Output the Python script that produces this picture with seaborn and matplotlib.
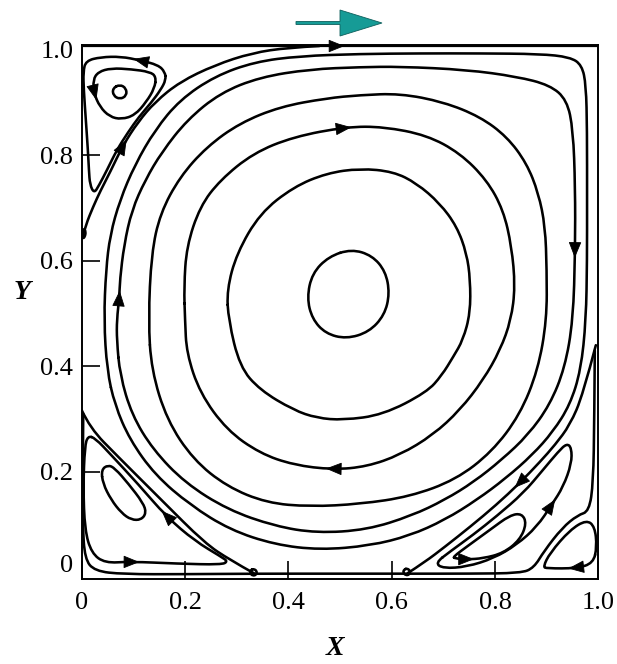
import numpy as np
import matplotlib
matplotlib.use("Agg")
import matplotlib.pyplot as plt
from matplotlib.path import Path
from matplotlib.patches import PathPatch, Polygon
import seaborn as sns

# ---- streamlines (x, y in cavity units) ----
C1 = [(0.522, 0.622), (0.562, 0.610), (0.588, 0.580), (0.596, 0.538), (0.586, 0.497),
      (0.556, 0.465), (0.512, 0.452), (0.472, 0.462), (0.446, 0.490), (0.436, 0.530),
      (0.446, 0.576), (0.478, 0.608)]
C2 = [(0.281, 0.545), (0.300, 0.614), (0.345, 0.690), (0.410, 0.740), (0.474, 0.766),
      (0.539, 0.775), (0.603, 0.769), (0.648, 0.747), (0.693, 0.709), (0.726, 0.665),
      (0.745, 0.614), (0.752, 0.564), (0.752, 0.501), (0.738, 0.450), (0.719, 0.418),
      (0.697, 0.383), (0.668, 0.351), (0.583, 0.308), (0.506, 0.298), (0.455, 0.302),
      (0.410, 0.317), (0.345, 0.355), (0.306, 0.399), (0.284, 0.488)]
C3 = [(0.198, 0.550), (0.203, 0.627), (0.229, 0.703), (0.268, 0.753), (0.332, 0.804),
      (0.410, 0.835), (0.513, 0.854), (0.584, 0.854), (0.668, 0.838), (0.732, 0.804),
      (0.784, 0.753), (0.816, 0.696), (0.832, 0.627), (0.839, 0.551), (0.831, 0.488),
      (0.810, 0.431), (0.777, 0.374), (0.732, 0.317), (0.680, 0.270), (0.616, 0.232),
      (0.552, 0.210), (0.487, 0.204), (0.410, 0.213), (0.345, 0.235), (0.281, 0.279),
      (0.229, 0.349), (0.203, 0.425), (0.200, 0.488)]
C4 = [(0.129, 0.488), (0.135, 0.614), (0.152, 0.690), (0.190, 0.759), (0.242, 0.816),
      (0.306, 0.861), (0.384, 0.892), (0.474, 0.908), (0.539, 0.914), (0.616, 0.917),
      (0.700, 0.901), (0.771, 0.873), (0.823, 0.835), (0.861, 0.785), (0.884, 0.728),
      (0.897, 0.665), (0.900, 0.583), (0.900, 0.488), (0.883, 0.393), (0.848, 0.308),
      (0.794, 0.238), (0.724, 0.185), (0.635, 0.153), (0.539, 0.139), (0.442, 0.134),
      (0.358, 0.141), (0.281, 0.172), (0.216, 0.223), (0.165, 0.298), (0.135, 0.393)]
C5 = [(0.068, 0.450), (0.068, 0.488), (0.073, 0.532), (0.074, 0.564), (0.082, 0.630),
      (0.097, 0.696), (0.123, 0.753), (0.155, 0.806), (0.204, 0.867), (0.268, 0.918),
      (0.345, 0.948), (0.442, 0.963), (0.539, 0.967), (0.616, 0.968), (0.745, 0.962),
      (0.842, 0.949), (0.906, 0.933), (0.939, 0.905), (0.951, 0.848), (0.955, 0.740),
      (0.955, 0.620), (0.951, 0.488), (0.935, 0.397), (0.906, 0.327), (0.864, 0.270),
      (0.813, 0.223), (0.759, 0.181), (0.703, 0.147), (0.639, 0.117), (0.552, 0.090),
      (0.455, 0.084), (0.374, 0.097), (0.283, 0.128), (0.200, 0.179), (0.138, 0.242),
      (0.097, 0.308), (0.074, 0.384)]
C6 = [(0.049, 0.393), (0.043, 0.488), (0.047, 0.583), (0.055, 0.649), (0.074, 0.715),
      (0.103, 0.782), (0.142, 0.848), (0.190, 0.905), (0.258, 0.950), (0.335, 0.977),
      (0.422, 0.988), (0.539, 0.992), (0.655, 0.993), (0.771, 0.993), (0.887, 0.992),
      (0.945, 0.986), (0.968, 0.971), (0.976, 0.933), (0.978, 0.848), (0.978, 0.715),
      (0.978, 0.602), (0.976, 0.488), (0.966, 0.393), (0.945, 0.327), (0.912, 0.276),
      (0.872, 0.232), (0.821, 0.188), (0.765, 0.147), (0.703, 0.109), (0.635, 0.079),
      (0.558, 0.060), (0.461, 0.052), (0.374, 0.062), (0.287, 0.090), (0.210, 0.137),
      (0.142, 0.194), (0.093, 0.261), (0.064, 0.327)]
LID = [(0.0, 1.007), (0.494, 1.007), (1.0, 1.007)]
SEP_TL = [(0.001, 0.643), (0.008, 0.668), (0.022, 0.702), (0.037, 0.734), (0.055, 0.768),
          (0.080, 0.819), (0.109, 0.863), (0.142, 0.901), (0.190, 0.939), (0.258, 0.971),
          (0.330, 0.994), (0.400, 1.004), (0.460, 1.007)]
TL_OUTER = [(0.161, 0.958), (0.148, 0.971), (0.113, 0.980), (0.076, 0.987), (0.037, 0.986),
            (0.008, 0.979), (0.003, 0.958), (0.004, 0.924), (0.008, 0.867), (0.012, 0.810),
            (0.014, 0.772), (0.016, 0.744), (0.024, 0.728), (0.033, 0.742), (0.049, 0.772),
            (0.068, 0.810), (0.090, 0.844), (0.111, 0.873), (0.134, 0.899), (0.153, 0.924),
            (0.163, 0.943)]
TL_INNER = [(0.144, 0.949), (0.132, 0.958), (0.096, 0.963), (0.057, 0.965), (0.032, 0.958),
            (0.022, 0.943), (0.024, 0.917), (0.035, 0.892), (0.054, 0.873), (0.077, 0.868),
            (0.103, 0.876), (0.125, 0.901), (0.141, 0.927)]
TL_EYE = [(0.074, 0.934), (0.086, 0.927), (0.087, 0.913), (0.074, 0.906), (0.061, 0.913),
          (0.060, 0.927)]
SEP_BL = [(0.333, 0.008), (0.287, 0.033), (0.238, 0.065), (0.154, 0.147), (0.070, 0.229),
          (0.016, 0.283), (0.0, 0.317)]
BL_OUTER = [(0.012, 0.268), (0.006, 0.248), (0.003, 0.172), (0.006, 0.090), (0.019, 0.046),
            (0.045, 0.027), (0.093, 0.030), (0.186, 0.026), (0.270, 0.024), (0.283, 0.030),
            (0.270, 0.039), (0.219, 0.069), (0.164, 0.115), (0.109, 0.177), (0.057, 0.232),
            (0.026, 0.264)]
BL_INNER = [(0.038, 0.204), (0.051, 0.213), (0.064, 0.207), (0.090, 0.178), (0.119, 0.141),
            (0.125, 0.122), (0.115, 0.109), (0.096, 0.109), (0.077, 0.122), (0.057, 0.147),
            (0.041, 0.178)]
SEP_BR = [(0.995, 0.440), (0.970, 0.346), (0.945, 0.289), (0.916, 0.251), (0.887, 0.219),
          (0.848, 0.179), (0.802, 0.137), (0.752, 0.096), (0.703, 0.058), (0.664, 0.029),
          (0.631, 0.008)]
BR_L1 = [(0.684, 0.027), (0.700, 0.017), (0.745, 0.020), (0.797, 0.036), (0.842, 0.062),
         (0.881, 0.096), (0.910, 0.138), (0.932, 0.172), (0.948, 0.216), (0.948, 0.245),
         (0.939, 0.254), (0.922, 0.238), (0.893, 0.204), (0.855, 0.160), (0.803, 0.116),
         (0.758, 0.081), (0.713, 0.049)]
BR_L2 = [(0.722, 0.036), (0.745, 0.034), (0.777, 0.036), (0.816, 0.046), (0.848, 0.071),
         (0.861, 0.102), (0.852, 0.121), (0.829, 0.118), (0.790, 0.090), (0.745, 0.058),
         (0.719, 0.039)]
BR_L3 = [(0.990, 0.027), (0.958, 0.017), (0.900, 0.017), (0.893, 0.020), (0.906, 0.046),
         (0.945, 0.090), (0.977, 0.109), (0.993, 0.096), (0.997, 0.058)]
WALL = [(0.993, 0.430), (0.992, 0.300), (0.990, 0.180), (0.982, 0.125), (0.960, 0.118),
        (0.930, 0.094), (0.895, 0.050), (0.875, 0.018), (0.850, 0.008), (0.750, 0.007),
        (0.630, 0.007), (0.500, 0.007), (0.333, 0.007), (0.200, 0.006), (0.080, 0.006),
        (0.025, 0.012), (0.006, 0.035), (0.002, 0.100), (0.002, 0.200), (0.003, 0.310)]
BUBBLE_BL = [(0.333, 0.016), (0.339, 0.012), (0.338, 0.005), (0.331, 0.003), (0.326, 0.008),
             (0.327, 0.014)]
BUBBLE_BR = [(0.630, 0.017), (0.636, 0.012), (0.634, 0.005), (0.627, 0.004), (0.622, 0.009),
             (0.624, 0.015)]
BUBBLE_TL = [(0.004, 0.662), (0.008, 0.655), (0.006, 0.645), (0.002, 0.642), (0.001, 0.652)]

# (curve, closed?)
CURVES = {
    "C1": (C1, True), "C2": (C2, True), "C3": (C3, True), "C4": (C4, True),
    "C5": (C5, True), "C6": (C6, True), "SEP_TL": (SEP_TL, False),
    "TL_OUTER": (TL_OUTER, True), "TL_INNER": (TL_INNER, True), "TL_EYE": (TL_EYE, True),
    "SEP_BL": (SEP_BL, False), "BL_OUTER": (BL_OUTER, True), "BL_INNER": (BL_INNER, True),
    "SEP_BR": (SEP_BR, False), "BR_L1": (BR_L1, True), "BR_L2": (BR_L2, True),
    "BR_L3": (BR_L3, True), "WALL": (WALL, False), "BUBBLE_BL": (BUBBLE_BL, True),
    "BUBBLE_BR": (BUBBLE_BR, True), "BUBBLE_TL": (BUBBLE_TL, True),
}
# flow arrows: (curve, point index)
ARROWS = [("LID", 1), ("C3", 6), ("C3", 21), ("C5", 2), ("C5", 20), ("SEP_TL", 5),
          ("TL_OUTER", 2), ("TL_INNER", 6), ("BL_OUTER", 6), ("BL_OUTER", 12),
          ("SEP_BR", 5), ("BR_L1", 6), ("BR_L2", 1), ("BR_L3", 1)]

X_TICKS = [0, 0.2, 0.4, 0.6, 0.8, 1.0]
X_LABELS = ["0", "0.2", "0.4", "0.6", "0.8", "1.0"]
Y_TICKS = [0.2, 0.4, 0.6, 0.8]
Y_LABELS = ["0.2", "0.4", "0.6", "0.8"]
Y_EDGE_TICKS = [0.027, 1.0]       # labels only, no tick marks
Y_EDGE_LABELS = ["0", "1.0"]


def smooth_path(pts, closed):
    p = np.asarray(pts, float)
    if closed:
        mids = (p + np.roll(p, -1, axis=0)) / 2
        verts, codes = [mids[-1]], [Path.MOVETO]
        for a, m in zip(p, mids):
            verts += [a, m]
            codes += [Path.CURVE3, Path.CURVE3]
    else:
        verts, codes = [p[0]], [Path.MOVETO]
        if len(p) == 2:
            verts.append(p[1]); codes.append(Path.LINETO)
        for i in range(1, len(p) - 1):
            m = p[i + 1] if i == len(p) - 2 else (p[i] + p[i + 1]) / 2
            verts += [p[i], m]
            codes += [Path.CURVE3, Path.CURVE3]
    return Path(verts, codes)


sns.set_theme(style="ticks")
plt.rcParams["font.family"] = ["Liberation Serif", "DejaVu Serif"]

fig = plt.figure(figsize=(6.17, 6.64), dpi=100)
ax = fig.add_axes([0.1324, 0.1273, 0.8375, 0.8042])
ax.set_xlim(0, 1.0)
ax.set_ylim(-0.004, 1.008)

LW = 1.85
sns.lineplot(x=[p[0] for p in LID], y=[p[1] for p in LID], ax=ax, color="black",
             lw=1.6, sort=False, estimator=None)
for name, (pts, closed) in CURVES.items():
    ax.add_patch(PathPatch(smooth_path(pts, closed), fill=False, ec="black", lw=LW,
                           capstyle="round", joinstyle="round"))

all_curves = dict(CURVES, LID=(LID, False))
for name, k in ARROWS:
    pts = np.asarray(all_curves[name][0], float)
    n = len(pts)
    prev, cur, nxt = pts[(k - 1) % n], pts[k], pts[(k + 1) % n]
    c = 0.125 * prev + 0.75 * cur + 0.125 * nxt
    d = nxt - prev
    d = d / np.hypot(*d)
    ax.annotate("", xy=c + d * 0.013, xytext=c - d * 0.013,
                arrowprops=dict(arrowstyle="-|>,head_length=0.6,head_width=0.24",
                                mutation_scale=17, fc="black", ec="black", lw=0.6,
                                shrinkA=0, shrinkB=0))

for s in ax.spines.values():
    s.set_color("black")
    s.set_linewidth(1.4)
ax.grid(False)

ax.set_xticks(X_TICKS)
ax.set_xticklabels(X_LABELS)
ax.set_yticks(Y_TICKS)
ax.set_yticklabels(Y_LABELS)
ax.set_yticks(Y_EDGE_TICKS, minor=True)
ax.set_yticklabels(Y_EDGE_LABELS, minor=True)
ax.tick_params(axis="both", which="major", direction="in", length=13, width=1.2,
               labelsize=19, colors="black", top=False, right=False)
ax.tick_params(axis="y", which="minor", length=0, labelsize=19, pad=6, colors="black")
ax.tick_params(axis="x", which="major", pad=9)
ax.tick_params(axis="y", which="major", pad=6)

fig.text(0.543, 0.024, "X", fontsize=20, style="italic", weight="bold",
         ha="center", va="center", color="black")
fig.text(0.036, 0.559, "Y", fontsize=20, style="italic", weight="bold",
         ha="center", va="center", color="black")

# teal lid-direction arrow above the cavity
lid_arrow = Polygon([(2.96, 6.395), (3.40, 6.395), (3.40, 6.28), (3.82, 6.41),
                     (3.40, 6.54), (3.40, 6.425), (2.96, 6.425)], closed=True,
                    transform=fig.dpi_scale_trans, facecolor="#169b96",
                    edgecolor="#0d5f5c", lw=0.6)
fig.add_artist(lid_arrow)

fig.savefig("out.png", dpi=100)
